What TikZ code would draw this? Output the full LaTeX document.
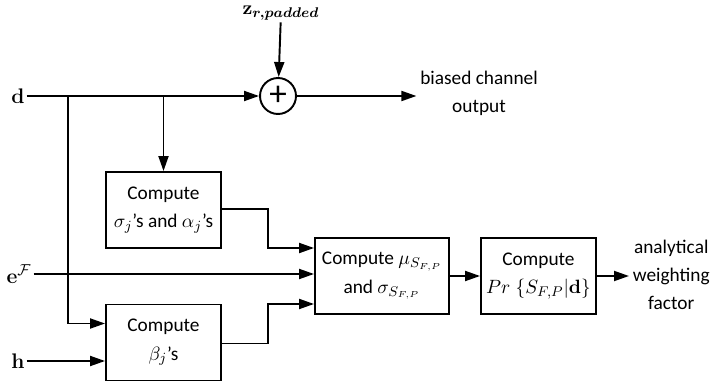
\documentclass[tikz,border=0pt]{standalone}
\usepackage{amsmath,bm}
\usepackage[no-math]{fontspec}
\setmainfont{Carlito}
\usetikzlibrary{arrows.meta,calc}

\tikzset{
  blk/.style={draw,line width=1.1pt,minimum width=2.3cm,minimum height=1.52cm,align=center,inner sep=2pt},
  arr/.style={line width=1.1pt,-{Triangle[length=0.3cm,width=0.2cm]}},
  lbl/.style={inner sep=2pt,align=center},
  sig/.style={inner sep=1pt,font=\fontsize{13}{16}\selectfont}
}

\begin{document}
\begin{tikzpicture}[x=0.02cm,y=-0.02cm,font=\fontsize{11}{16}\selectfont]
\useasboundingbox (0,0) rectangle (714,385);

% inputs
\node[sig] (d) at (18,96) {$\mathbf{d}$};
\node[sig] (e) at (19,274) {$\mathbf{e}^{\mathcal{F}}$};
\node[sig] (h) at (18,361) {$\mathbf{h}$};
\node[lbl,inner sep=1pt] (z) at (281,13) {$\mathbf{z}_{\bm{r,padded}}$};

% adder and blocks
\node[draw,circle,line width=1.1pt,minimum size=0.72cm,inner sep=0pt] (sum) at (278,96) {\fontsize{20}{20}\selectfont +};
\node[blk] (sigalpha) at (163.5,210) {Compute\\$\sigma_j$’s and $\alpha_j$’s};
\node[blk] (beta) at (163.5,342.5) {Compute\\$\beta_j$’s};
\node[blk,minimum width=2.68cm] (mu) at (382,276) {Compute $\mu_{S_{F,P}}$\\and $\sigma_{S_{F,P}}$};
\node[blk] (pr) at (538.5,276) {Compute\\$Pr\;\{S_{F,P}|\mathbf{d}\}$};

% outputs
\node[lbl] (bco) at (479,93) {biased channel\\output};
\node[lbl,anchor=west] (awf) at (629,275) {analytical\\weighting\\factor};

% branch points on the d line
\coordinate (b1) at (68,96);
\coordinate (b2) at (163.5,96);

\draw[arr] (z) -- (sum);
\draw[arr] (d) -- (sum);
\draw[arr] (sum) -- (bco.west |- sum);
\draw[arr] (b2) -- (sigalpha.north);
\draw[arr] (b1) |- ([yshift=0.38cm]beta.west);
\draw[arr] (h) -- (h -| beta.west);
\draw[arr] (e) -- (e -| mu.west);
\draw[arr] ([yshift=0.02cm]sigalpha.east) -| ($(sigalpha.east)!0.5!(mu.west)$) |- ([yshift=0.56cm]mu.west);
\draw[arr] ([yshift=-0.02cm]beta.east) -| ($(beta.east)!0.5!(mu.west)$) |- ([yshift=-0.56cm]mu.west);
\draw[arr] (mu) -- (pr);
\draw[arr] (pr) -- (awf.west |- pr);
\end{tikzpicture}
\end{document}
